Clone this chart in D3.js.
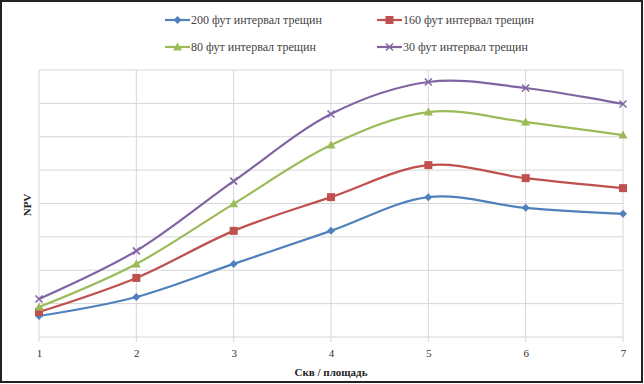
<!DOCTYPE html>
<html><head><meta charset="utf-8">
<script src="https://cdn.jsdelivr.net/npm/d3@7"></script>
<style>body{margin:0;background:#fff}svg{display:block}</style>
</head><body>
<svg id="c" width="644" height="384"></svg>
<script>
const categories = [1, 2, 3, 4, 5, 6, 7];
const seriesNames = ["200 фут интервал трещин", "160 фут интервал трещин", "80 фут интервал трещин", "30 фут интервал трещин"];
const s200 = [0.63, 1.20, 2.19, 3.18, 4.19, 3.87, 3.69];
const s160 = [0.75, 1.77, 3.18, 4.19, 5.15, 4.76, 4.46];
const s80  = [0.90, 2.19, 3.99, 5.75, 6.74, 6.44, 6.05];
const s30  = [1.14, 2.58, 4.67, 6.68, 7.64, 7.46, 6.98];
const yTicks = [0, 1, 2, 3, 4, 5, 6, 7, 8];
const xTitle = "Скв / площадь";
const yTitle = "NPV";

const colors = ["#4F81BD", "#C0504D", "#9BBB59", "#8064A2"];
const markers = ["diamond", "square", "triangle", "x"];
const allSeries = [s200, s160, s80, s30];
const SERIF = "'Liberation Serif', 'Times New Roman', 'DejaVu Serif', serif";

const svg = d3.select("#c");
svg.append("rect").attr("x", 1).attr("y", 1).attr("width", 641).attr("height", 381)
  .attr("fill", "#fff").attr("stroke", "#222").attr("stroke-width", 2);

const L = 39, R = 623, T = 70, B = 337;
const x = d3.scaleLinear().domain([1, 7]).range([L, R]);
const y = d3.scaleLinear().domain([0, 8]).range([B, T]);

// grid
const g = svg.append("g");
g.selectAll(".hg").data(yTicks).join("line")
  .attr("x1", L).attr("x2", R).attr("y1", d => y(d)).attr("y2", d => y(d))
  .attr("stroke", "#d6d6d6").attr("stroke-width", 1);
g.selectAll(".vg").data(categories).join("line")
  .attr("x1", d => x(d)).attr("x2", d => x(d)).attr("y1", T).attr("y2", B + 5)
  .attr("stroke", "#d6d6d6").attr("stroke-width", 1);

// x axis labels
const xa = svg.append("g").attr("transform", `translate(0,${B})`)
  .call(d3.axisBottom(x).tickValues(categories).tickFormat(d3.format("d")).tickSize(0).tickPadding(12));
xa.select(".domain").remove();
xa.selectAll("text").style("font-family", SERIF).attr("font-size", 11).attr("fill", "#333");

svg.append("text").attr("x", 331).attr("y", 376).attr("text-anchor", "middle")
  .style("font-family", SERIF).attr("font-weight", "bold").attr("font-size", 11).attr("fill", "#222")
  .text(xTitle);
svg.append("text").attr("transform", "translate(31,205) rotate(-90)").attr("text-anchor", "middle")
  .style("font-family", SERIF).attr("font-weight", "bold").attr("font-size", 11).attr("fill", "#222")
  .text(yTitle);

const line = d3.line().x((d, i) => x(categories[i])).y(d => y(d)).curve(d3.curveCardinal.tension(0));

function drawMarker(sel, type, color, cx, cy) {
  if (type === "diamond") {
    sel.append("path").attr("d", `M${cx},${cy-4}L${cx+4},${cy}L${cx},${cy+4}L${cx-4},${cy}Z`).attr("fill", color);
  } else if (type === "square") {
    sel.append("rect").attr("x", cx - 4).attr("y", cy - 4).attr("width", 8).attr("height", 8).attr("fill", color);
  } else if (type === "triangle") {
    sel.append("path").attr("d", `M${cx},${cy-4.5}L${cx+4.5},${cy+3.5}L${cx-4.5},${cy+3.5}Z`).attr("fill", color);
  } else {
    sel.append("path").attr("d", `M${cx-3.5},${cy-3.5}L${cx+3.5},${cy+3.5}M${cx-3.5},${cy+3.5}L${cx+3.5},${cy-3.5}`)
      .attr("stroke", color).attr("stroke-width", 1.5).attr("fill", "none");
  }
}

allSeries.forEach((s, k) => {
  svg.append("path").datum(s).attr("d", line).attr("fill", "none")
    .attr("stroke", colors[k]).attr("stroke-width", 2.2);
  const mg = svg.append("g");
  s.forEach((v, i) => drawMarker(mg, markers[k], colors[k], x(categories[i]), y(v)));
});

// legend
const legPos = [[165, 20], [377, 20], [165, 47], [377, 47]];
seriesNames.forEach((n, k) => {
  const [lx, ly] = legPos[k];
  const lg = svg.append("g");
  lg.append("line").attr("x1", lx).attr("x2", lx + 25).attr("y1", ly).attr("y2", ly)
    .attr("stroke", colors[k]).attr("stroke-width", 2.2);
  drawMarker(lg, markers[k], colors[k], lx + 12.5, ly);
  lg.append("text").attr("x", lx + 26).attr("y", ly + 4).style("font-family", SERIF)
    .attr("font-size", 12).attr("fill", "#444").text(n);
});
</script>
</body></html>
